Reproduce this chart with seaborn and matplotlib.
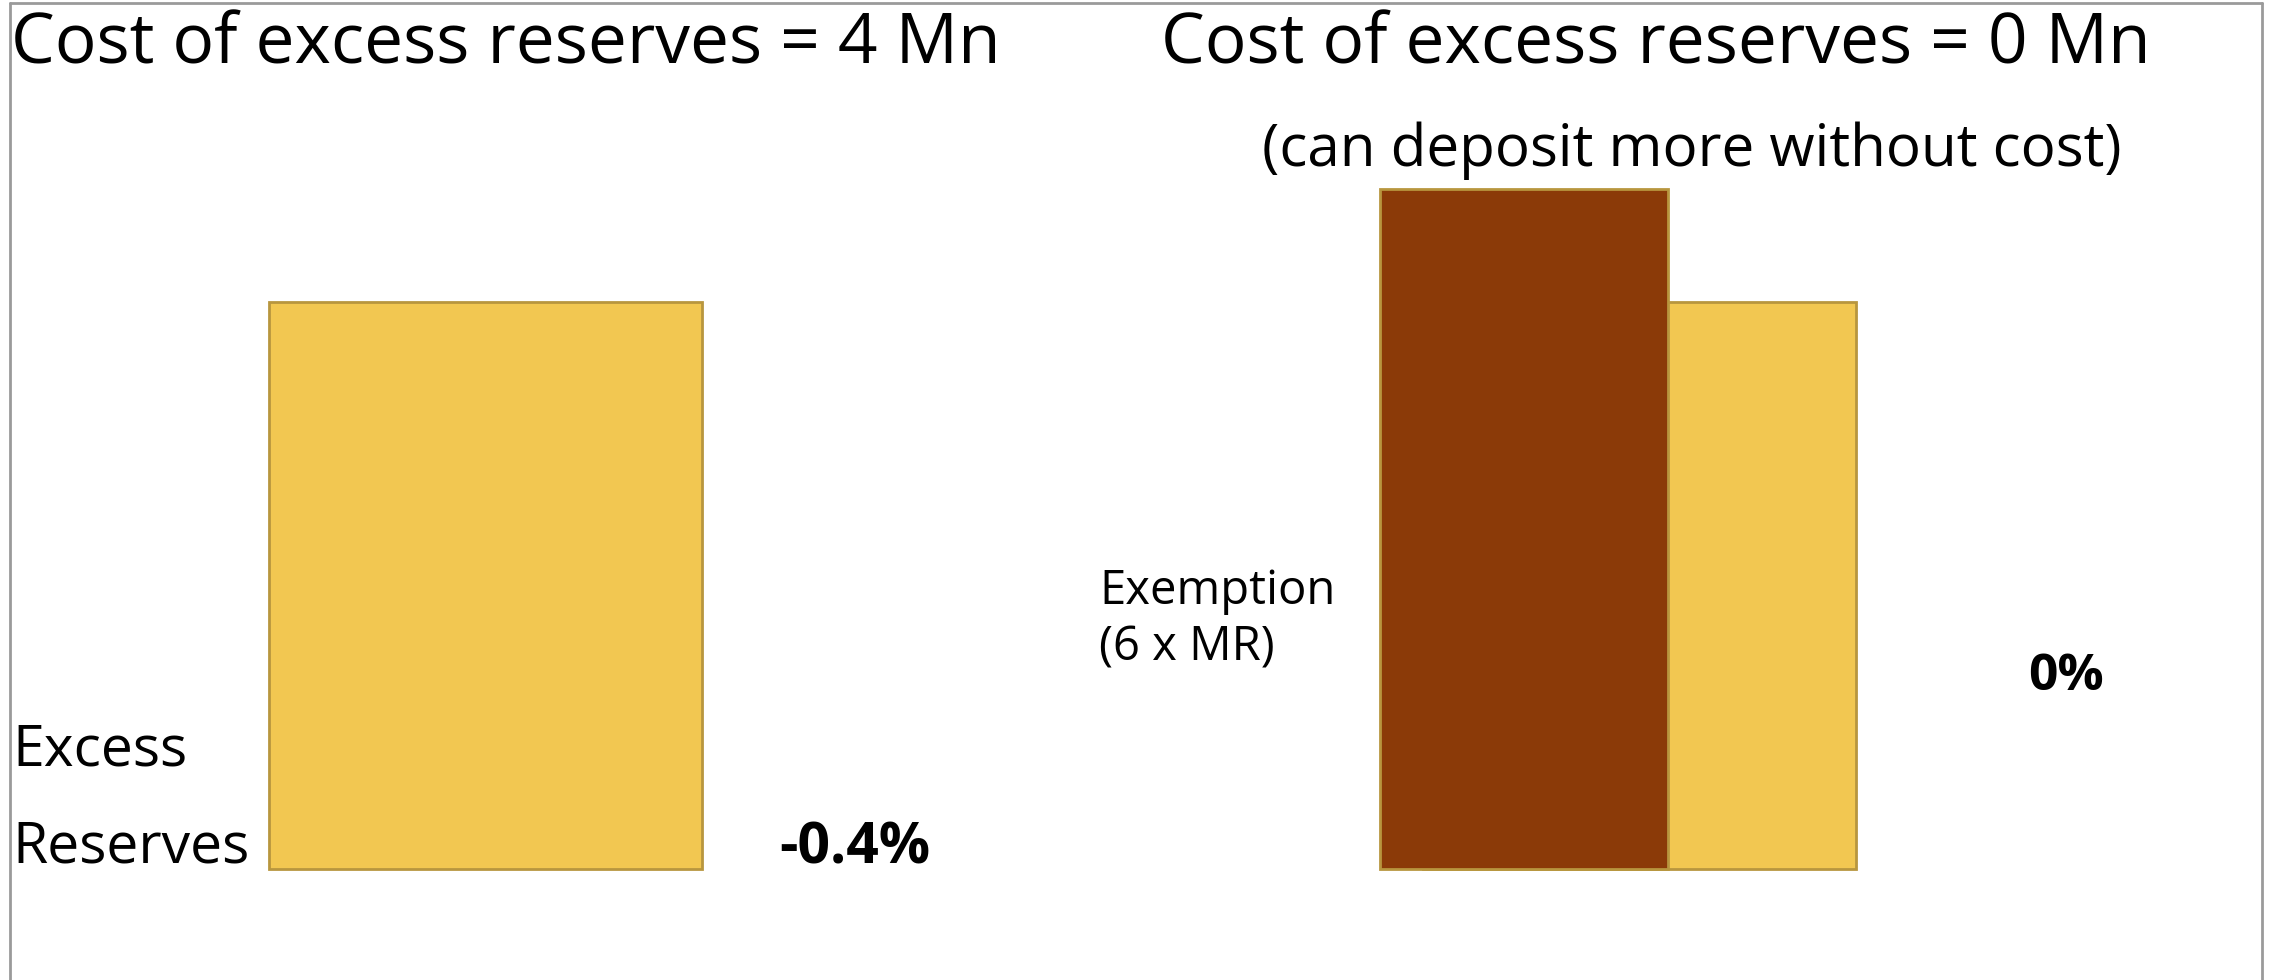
import matplotlib
matplotlib.use("Agg")
import matplotlib.pyplot as plt
import seaborn as sns
import pandas as pd
from matplotlib.lines import Line2D

# data
scenarios = ["Current", "Tiered"]
excess_reserves = [5, 5]
exemption = [6]
rates = ["-0.4%", "0%"]
titles = ["Cost of excess reserves = 4 Mn", "Cost of excess reserves = 0 Mn"]
subtitle = "(can deposit more without cost)"

yellow = "#F2C751"
brown = "#8B3A08"
edge = "#B8963E"

sns.set_theme(style="white")
plt.rcParams["font.family"] = ["Open Sans", "DejaVu Sans"]
plt.rcParams["text.color"] = "black"

W, H = 2279, 980
fig = plt.figure(figsize=(W / 100, H / 100), dpi=100)
ax = fig.add_axes([0, 0, 1, 1])

df = pd.DataFrame({"scenario": scenarios, "value": excess_reserves})
sns.barplot(data=df, x="scenario", y="value", color=yellow, width=0.375,
            saturation=1, edgecolor=edge, linewidth=2, ax=ax)
# exemption bar overlaps the tiered excess reserves bar
ax.bar([0.9], exemption, width=0.25, color=brown, edgecolor=edge,
       linewidth=2, zorder=3)

ax.set_xlim(-0.4207, 1.554)
ax.set_ylim(-0.979, 7.663)
ax.axis("off")

def fx(px):
    return px / W

def fy(px):
    return 1 - px / H

fig.text(fx(11), fy(64), titles[0], fontsize=50, va="baseline", ha="left")
fig.text(fx(1656), fy(64), titles[1], fontsize=50, va="baseline", ha="center")
fig.text(fx(1692), fy(166), subtitle, fontsize=42, va="baseline", ha="center")
fig.text(fx(12), fy(765), "Excess", fontsize=41, va="baseline", ha="left")
fig.text(fx(12), fy(862), "Reserves", fontsize=41, va="baseline", ha="left")
fig.text(fx(779), fy(863), rates[0], fontsize=41, fontweight="bold",
         va="baseline", ha="left")
fig.text(fx(1099), fy(604), "Exemption", fontsize=34, va="baseline", ha="left")
fig.text(fx(1099), fy(661), "(6 x MR)", fontsize=34, va="baseline", ha="left")
fig.text(fx(2028), fy(690), rates[1], fontsize=37, fontweight="bold",
         va="baseline", ha="left")

# frame around the slide
border = "#9A9A9A"
fig.add_artist(Line2D([fx(10), fx(10)], [0, fy(3)], color=border, lw=2))
fig.add_artist(Line2D([fx(10), fx(2262)], [fy(3), fy(3)], color=border, lw=2))
fig.add_artist(Line2D([fx(2262), fx(2262)], [0, fy(3)], color=border, lw=2))

fig.savefig("out.png", dpi=100, facecolor="white")
